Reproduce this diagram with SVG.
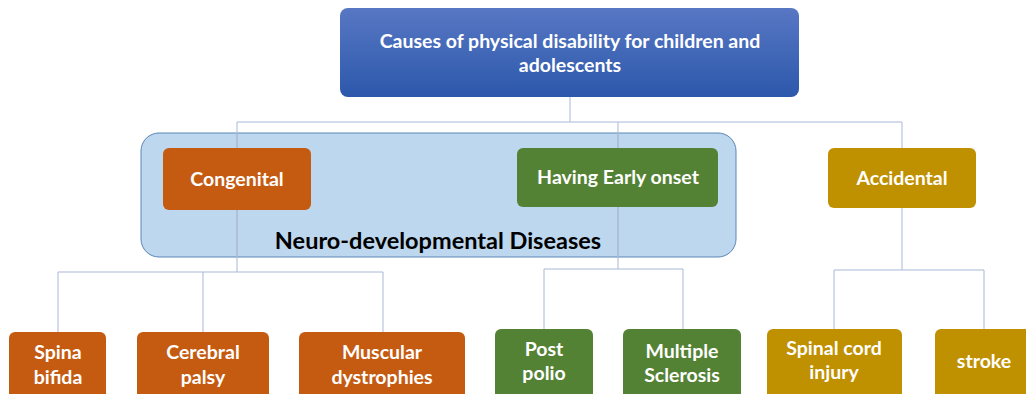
<svg xmlns="http://www.w3.org/2000/svg" width="1026" height="394" viewBox="0 0 1026 394">
<defs>
<linearGradient id="gTop" x1="0" y1="0" x2="0" y2="1">
<stop offset="0" stop-color="#5877c4"/>
<stop offset="1" stop-color="#2c58ab"/>
</linearGradient>
</defs>
<style>
.t{font-family:Lato,"Liberation Sans",sans-serif;font-weight:bold;font-size:19.5px;fill:#ffffff;text-anchor:middle}
.c{stroke:#a9b8d6;stroke-width:1;fill:none}
.or{fill:#c55a11}
.gr{fill:#548235}
.go{fill:#bf9000}
</style>
<rect width="1026" height="394" fill="#ffffff"/>
<g id="neuro">
<rect x="141" y="133" width="595" height="124" rx="18" fill="#bdd7ee" stroke="#5a86b5" stroke-width="1"/>
<text x="438" y="249" font-family="Lato,'Liberation Sans',sans-serif" font-weight="bold" font-size="23.5" fill="#000000" text-anchor="middle">Neuro-developmental Diseases</text>
</g>
<g id="connectors">
<path class="c" d="M570 97V122M237 122H902M237 122V272M618 122V269M902 122V148M902 208V270"/>
<path class="c" d="M237 133V257M618 133V257" stroke="#7f9cc8"/>
<path class="c" d="M58 272H383M58 272V332M203 272V332M383 272V332"/>
<path class="c" d="M544 269H683M544 269V329M683 269V329"/>
<path class="c" d="M834 270H984M834 270V329M984 270V329"/>
</g>
<g id="root">
<rect x="340" y="8" width="459" height="89" rx="8" fill="url(#gTop)"/>
<text class="t" x="570" y="48">Causes of physical disability for children and</text>
<text class="t" x="570" y="72">adolescents</text>
</g>
<g id="congenital">
<rect class="or" x="163" y="148" width="148" height="62" rx="6"/>
<text class="t" x="237" y="186">Congenital</text>
</g>
<g id="early">
<rect class="gr" x="517" y="148" width="201" height="59" rx="6"/>
<text class="t" x="618" y="184">Having Early onset</text>
</g>
<g id="accidental">
<rect class="go" x="828" y="148" width="148" height="60" rx="6"/>
<text class="t" x="902" y="185">Accidental</text>
</g>
<g id="spina">
<rect class="or" x="9" y="332" width="97" height="80" rx="6"/>
<text class="t" x="58" y="359">Spina</text>
<text class="t" x="58" y="384">bifida</text>
</g>
<g id="cerebral">
<rect class="or" x="137" y="332" width="132" height="80" rx="6"/>
<text class="t" x="203" y="359">Cerebral</text>
<text class="t" x="203" y="384">palsy</text>
</g>
<g id="muscular">
<rect class="or" x="299" y="332" width="166" height="80" rx="6"/>
<text class="t" x="382" y="359">Muscular</text>
<text class="t" x="382" y="384">dystrophies</text>
</g>
<g id="postpolio">
<rect class="gr" x="495" y="329" width="98" height="80" rx="6"/>
<text class="t" x="544" y="356">Post</text>
<text class="t" x="544" y="380">polio</text>
</g>
<g id="ms">
<rect class="gr" x="623" y="329" width="118" height="80" rx="6"/>
<text class="t" x="682" y="358">Multiple</text>
<text class="t" x="682" y="382">Sclerosis</text>
</g>
<g id="spinal">
<rect class="go" x="767" y="329" width="135" height="80" rx="6"/>
<text class="t" x="834" y="355">Spinal cord</text>
<text class="t" x="834" y="379">injury</text>
</g>
<g id="stroke">
<rect class="go" x="935" y="329" width="100" height="80" rx="6"/>
<text class="t" x="984" y="368">stroke</text>
</g>
</svg>
